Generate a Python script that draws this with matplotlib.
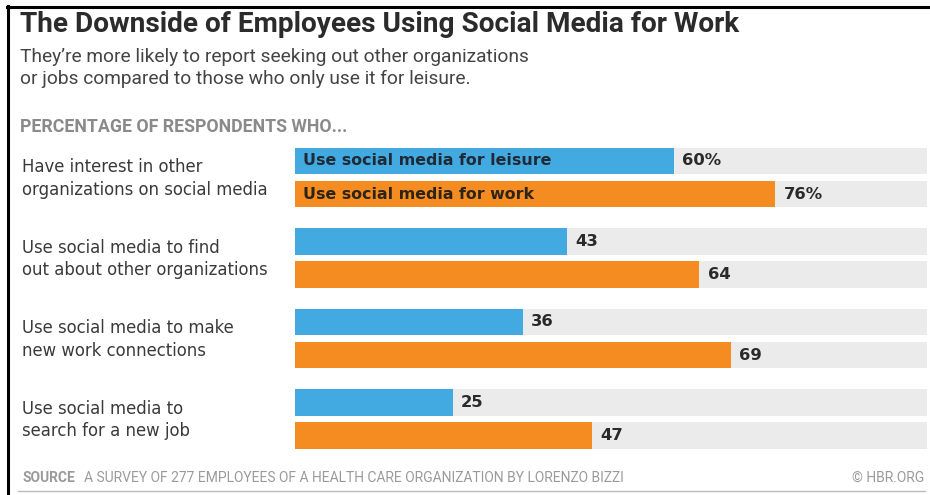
import matplotlib.pyplot as plt
import numpy as np

categories = [
    "Have interest in other\norganizations on social media",
    "Use social media to find\nout about other organizations",
    "Use social media to make\nnew work connections",
    "Use social media to\nsearch for a new job",
]
leisure = [60, 43, 36, 25]
work = [76, 64, 69, 47]
series_names = ["Use social media for leisure", "Use social media for work"]

BLUE = "#43A9E1"
ORANGE = "#F48C22"
GRAY = "#EBEBEB"
W, H = 930, 495

fig = plt.figure(figsize=(W / 100, H / 100), dpi=100)
fig.patch.set_facecolor("white")


def fx(px):
    return px / W


def fy(py):
    return 1 - py / H


# frame lines (top and left)
fig.add_artist(plt.Line2D([fx(7), fx(930)], [fy(7), fy(7)], color="black", lw=2.2))
fig.add_artist(plt.Line2D([fx(8), fx(8)], [fy(6), fy(495)], color="black", lw=2.2))

fig.text(fx(20), fy(25), "The Downside of Employees Using Social Media for Work",
         family="Roboto", weight="bold", fontsize=20.2, color="#2b2b2b", va="center")
fig.text(fx(20), fy(57), "They\u2019re more likely to report seeking out other organizations",
         family="Roboto", fontsize=13.8, color="#444444", va="center")
fig.text(fx(20), fy(79), "or jobs compared to those who only use it for leisure.",
         family="Roboto", fontsize=13.8, color="#444444", va="center")
fig.text(fx(20), fy(127), "PERCENTAGE OF RESPONDENTS WHO...",
         family="Roboto", weight="bold", fontsize=12.8, color="#8a8a8a", va="center")

# bars axes
top_px, bottom_px = 137.25, 459.25
ax = fig.add_axes([fx(295), fy(bottom_px), fx(927) - fx(295), (bottom_px - top_px) / H])
n = len(categories)
y = np.arange(n)
off, h = 0.205, 0.325
ax.barh(y - off, [100] * n, height=h, color=GRAY)
ax.barh(y + off, [100] * n, height=h, color=GRAY)
ax.barh(y - off, leisure, height=h, color=BLUE)
ax.barh(y + off, work, height=h, color=ORANGE)
ax.set_xlim(0, 100)
ax.set_ylim(n - 0.5, -0.5)
ax.axis("off")

for i in range(n):
    sfx = "%" if i == 0 else ""
    ax.text(leisure[i] + 1.3, i - off, f"{leisure[i]}{sfx}", va="center", ha="left",
            fontsize=11.8, weight="bold", color="#2a2a2a")
    ax.text(work[i] + 1.3, i + off, f"{work[i]}{sfx}", va="center", ha="left",
            fontsize=11.8, weight="bold", color="#2a2a2a")
    fig.text(fx(22), fy(178.5 + 80.5 * i), categories[i], va="center", ha="left",
             fontsize=11.9, color="#3a3a3a", linespacing=1.35)

ax.text(1.3, -off, series_names[0], va="center", ha="left",
        fontsize=11.4, weight="bold", color="#1e2b36")
ax.text(1.3, off, series_names[1], va="center", ha="left",
        fontsize=11.4, weight="bold", color="#2e2416")

# footer
fig.text(fx(22), fy(478), "SOURCE", family="Roboto", weight="bold",
         fontsize=10, color="#9a9a9a", va="center")
fig.text(fx(84), fy(478), "A SURVEY OF 277 EMPLOYEES OF A HEALTH CARE ORGANIZATION BY LORENZO BIZZI",
         family="Roboto", fontsize=10, color="#9a9a9a", va="center")
fig.text(fx(924), fy(478), "\u00a9 HBR.ORG", family="Roboto",
         fontsize=10, color="#9a9a9a", va="center", ha="right")
fig.add_artist(plt.Line2D([fx(18), fx(925)], [fy(491), fy(491)], color="#bbbbbb", lw=1))

fig.savefig("out.png", dpi=100)
